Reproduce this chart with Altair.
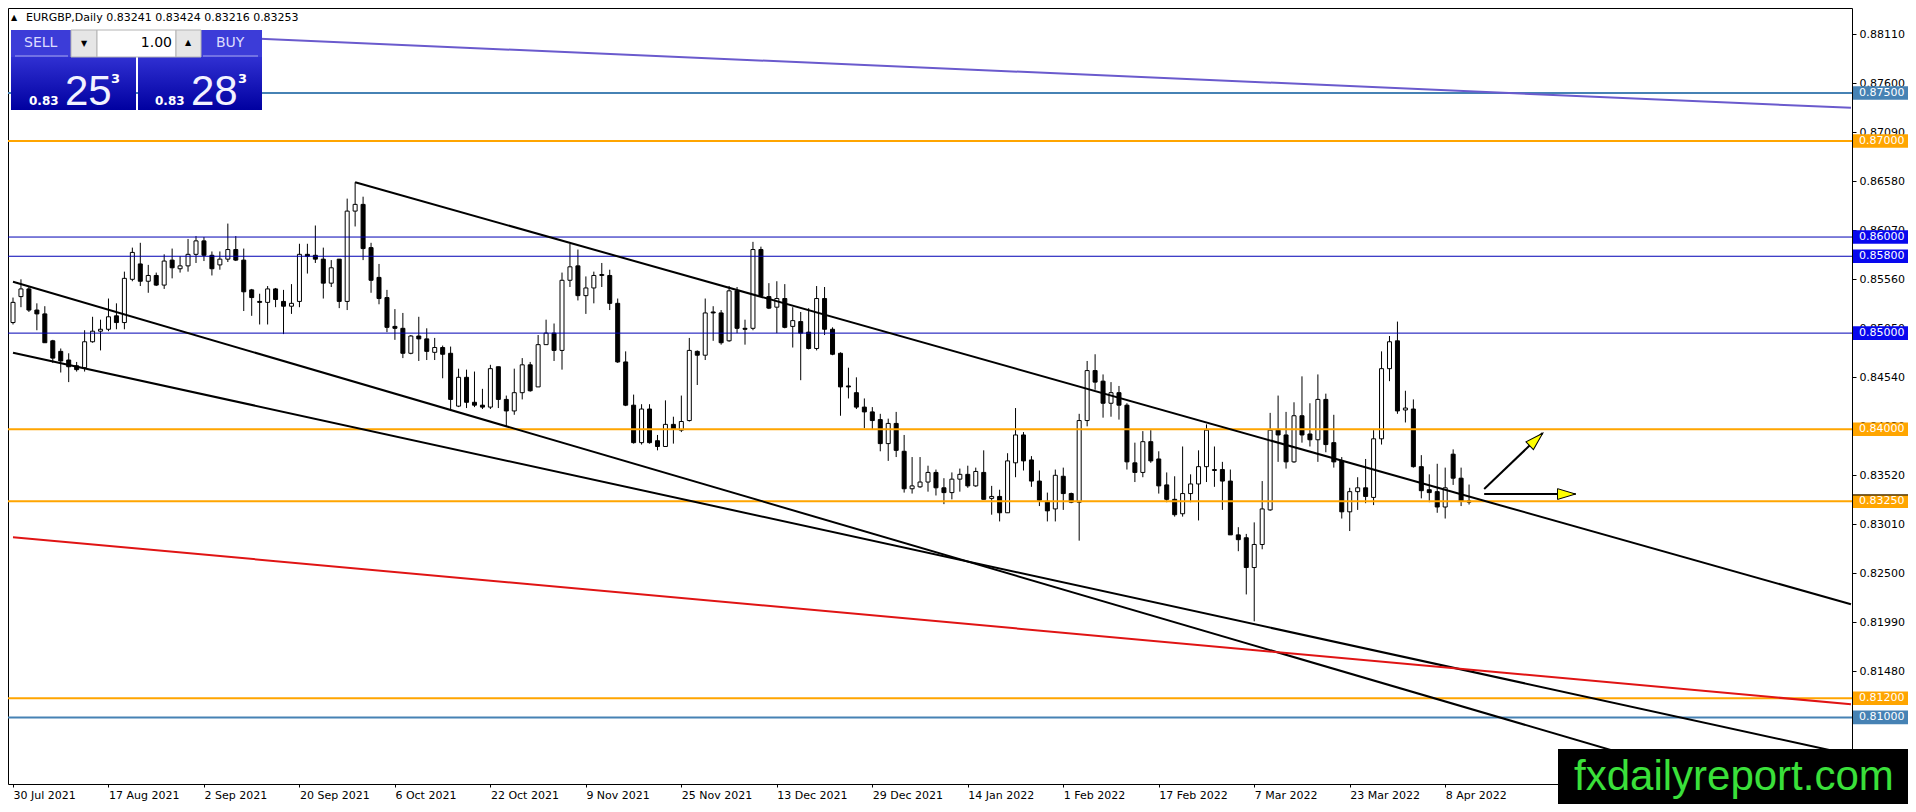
import math
import altair as alt
import pandas as pd

# ---------------- data ----------------
opens = [0.8511, 0.8538, 0.8546, 0.8524, 0.8520, 0.8492, 0.8481, 0.8472, 0.8466, 0.8464,
         0.8491, 0.8502, 0.8504, 0.8518, 0.8511, 0.8556, 0.8572, 0.8554, 0.8560, 0.8550,
         0.8576, 0.8567, 0.8570, 0.8582, 0.8596, 0.8581, 0.8571, 0.8577, 0.8587, 0.8576,
         0.8545, 0.8533, 0.8532, 0.8546, 0.8533, 0.8528, 0.8533, 0.8582, 0.8581, 0.8577,
         0.8552, 0.8577, 0.8533, 0.8627, 0.8634, 0.8589, 0.8558, 0.8537, 0.8507, 0.8505,
         0.8479, 0.8497, 0.8494, 0.8480, 0.8485, 0.8479, 0.8424, 0.8454, 0.8428, 0.8425,
         0.8423, 0.8465, 0.8431, 0.8419, 0.8438, 0.8467, 0.8444, 0.8488, 0.8500, 0.8482,
         0.8555, 0.8570, 0.8539, 0.8547, 0.8560, 0.8560, 0.8531, 0.8470, 0.8425, 0.8386,
         0.8421, 0.8388, 0.8382, 0.8405, 0.8399, 0.8409, 0.8481, 0.8477, 0.8522, 0.8521,
         0.8492, 0.8544, 0.8505, 0.8505, 0.8587, 0.8538, 0.8527, 0.8536, 0.8507, 0.8512,
         0.8501, 0.8484, 0.8536, 0.8504, 0.8479, 0.8445, 0.8438, 0.8423, 0.8418, 0.8410,
         0.8385, 0.8406, 0.8377, 0.8338, 0.8340, 0.8345, 0.8355, 0.8339, 0.8334, 0.8348,
         0.8353, 0.8341, 0.8355, 0.8328, 0.8330, 0.8313, 0.8365, 0.8394, 0.8368, 0.8346,
         0.8325, 0.8317, 0.8351, 0.8333, 0.8324, 0.8409, 0.8461, 0.8450, 0.8427, 0.8438,
         0.8425, 0.8365, 0.8355, 0.8387, 0.8369, 0.8342, 0.8327, 0.8312, 0.8333, 0.8343,
         0.8361, 0.8357, 0.8358, 0.8346, 0.8290, 0.8287, 0.8256, 0.8280, 0.8316, 0.8399,
         0.8394, 0.8366, 0.8414, 0.8395, 0.8389, 0.8431, 0.8386, 0.8367, 0.8314, 0.8335,
         0.8339, 0.8329, 0.8390, 0.8463, 0.8492, 0.8420, 0.8421, 0.8361, 0.8337, 0.8335,
         0.8319, 0.8374, 0.8349, 0.83241]
highs = [0.8537, 0.8556, 0.8548, 0.8531, 0.8528, 0.8493, 0.8484, 0.8479, 0.8470, 0.8503,
         0.8517, 0.8514, 0.8536, 0.8531, 0.8564, 0.8589, 0.8594, 0.8571, 0.8563, 0.8582,
         0.8588, 0.8580, 0.8598, 0.8601, 0.8600, 0.8585, 0.8585, 0.8614, 0.8601, 0.8588,
         0.8546, 0.8541, 0.8549, 0.8547, 0.8545, 0.8551, 0.8593, 0.8593, 0.8612, 0.8589,
         0.8576, 0.8577, 0.8640, 0.8657, 0.8642, 0.8594, 0.8572, 0.8545, 0.8525, 0.8521,
         0.8498, 0.8517, 0.8505, 0.8495, 0.8487, 0.8486, 0.8463, 0.8462, 0.8460, 0.8442,
         0.8467, 0.8465, 0.8435, 0.8463, 0.8474, 0.8470, 0.8498, 0.8514, 0.8510, 0.8563,
         0.8593, 0.8587, 0.8559, 0.8564, 0.8573, 0.8566, 0.8536, 0.8481, 0.8436, 0.8426,
         0.8426, 0.8394, 0.8430, 0.8413, 0.8435, 0.8495, 0.8482, 0.8536, 0.8528, 0.8524,
         0.8549, 0.8548, 0.8514, 0.8595, 0.8590, 0.8552, 0.8554, 0.8551, 0.8527, 0.8522,
         0.8526, 0.8549, 0.8548, 0.8506, 0.8480, 0.8464, 0.8454, 0.8432, 0.8423, 0.8416,
         0.8411, 0.8418, 0.8394, 0.8371, 0.8371, 0.8362, 0.8358, 0.8349, 0.8355, 0.8359,
         0.8362, 0.8360, 0.8378, 0.8341, 0.8337, 0.8375, 0.8422, 0.8397, 0.8372, 0.8357,
         0.8334, 0.8358, 0.8360, 0.8334, 0.8416, 0.8471, 0.8478, 0.8457, 0.8449, 0.8445,
         0.8427, 0.8386, 0.8398, 0.8399, 0.8377, 0.8355, 0.8351, 0.8382, 0.8353, 0.8378,
         0.8405, 0.8382, 0.8366, 0.8358, 0.8298, 0.8291, 0.8303, 0.8346, 0.8417, 0.8435,
         0.8418, 0.8428, 0.8455, 0.8427, 0.8457, 0.8437, 0.8415, 0.8371, 0.8339, 0.8350,
         0.8369, 0.8399, 0.8481, 0.8497, 0.8512, 0.8440, 0.8431, 0.8373, 0.8353, 0.8364,
         0.8360, 0.8379, 0.8360, 0.83424]
lows = [0.8509, 0.8527, 0.8522, 0.8503, 0.8490, 0.8469, 0.8459, 0.8449, 0.8460, 0.8460,
        0.8490, 0.8482, 0.8502, 0.8504, 0.8504, 0.8554, 0.8549, 0.8542, 0.8549, 0.8546,
        0.8557, 0.8563, 0.8564, 0.8573, 0.8575, 0.8560, 0.8566, 0.8574, 0.8575, 0.8523,
        0.8518, 0.8509, 0.8509, 0.8527, 0.8499, 0.8520, 0.8527, 0.8562, 0.8573, 0.8536,
        0.8548, 0.8526, 0.8524, 0.8611, 0.8576, 0.8542, 0.8530, 0.8501, 0.8493, 0.8474,
        0.8478, 0.8471, 0.8472, 0.8472, 0.8453, 0.8421, 0.8423, 0.8422, 0.8423, 0.8421,
        0.8421, 0.8422, 0.8403, 0.8415, 0.8431, 0.8439, 0.8444, 0.8488, 0.8471, 0.8462,
        0.8548, 0.8534, 0.8520, 0.8531, 0.8548, 0.8524, 0.8469, 0.8424, 0.8385, 0.8384,
        0.8385, 0.8378, 0.8382, 0.8385, 0.8397, 0.8408, 0.8446, 0.8472, 0.8492, 0.8488,
        0.8491, 0.8500, 0.8488, 0.8503, 0.8538, 0.8525, 0.8500, 0.8505, 0.8485, 0.8451,
        0.8483, 0.8482, 0.8498, 0.8477, 0.8414, 0.8432, 0.8421, 0.8401, 0.8400, 0.8377,
        0.8367, 0.8371, 0.8334, 0.8333, 0.8339, 0.8335, 0.8331, 0.8322, 0.8327, 0.8335,
        0.8339, 0.8340, 0.8327, 0.8311, 0.8304, 0.8313, 0.8350, 0.8357, 0.8340, 0.8320,
        0.8304, 0.8304, 0.8316, 0.8323, 0.8284, 0.8403, 0.8441, 0.8412, 0.8413, 0.8410,
        0.8358, 0.8345, 0.8350, 0.8365, 0.8333, 0.8324, 0.8309, 0.8309, 0.8324, 0.8305,
        0.8345, 0.8340, 0.8316, 0.8290, 0.8273, 0.8228, 0.8200, 0.8275, 0.8315, 0.8366,
        0.8359, 0.8365, 0.8386, 0.8382, 0.8366, 0.8376, 0.8360, 0.8307, 0.8294, 0.8316,
        0.8323, 0.8321, 0.8384, 0.8450, 0.8416, 0.8407, 0.8360, 0.8328, 0.8324, 0.8313,
        0.8307, 0.8342, 0.8320, 0.83216]
closes = [0.8532, 0.8546, 0.8524, 0.8520, 0.8490, 0.8474, 0.8471, 0.8465, 0.8462, 0.8491,
          0.8502, 0.8504, 0.8517, 0.8511, 0.8557, 0.8584, 0.8554, 0.8560, 0.8550, 0.8575,
          0.8568, 0.8570, 0.8582, 0.8596, 0.8581, 0.8567, 0.8577, 0.8587, 0.8576, 0.8543,
          0.8537, 0.8532, 0.8546, 0.8535, 0.8528, 0.8531, 0.8582, 0.8580, 0.8577, 0.8552,
          0.8568, 0.8533, 0.8627, 0.8634, 0.8588, 0.8555, 0.8536, 0.8506, 0.8505, 0.8479,
          0.8497, 0.8494, 0.8481, 0.8485, 0.8478, 0.8431, 0.8454, 0.8428, 0.8425, 0.8423,
          0.8463, 0.8431, 0.8419, 0.8438, 0.8467, 0.8440, 0.8488, 0.8500, 0.8482, 0.8555,
          0.8569, 0.8539, 0.8547, 0.8560, 0.8561, 0.8531, 0.8470, 0.8425, 0.8386, 0.8421,
          0.8386, 0.8382, 0.8405, 0.8400, 0.8408, 0.8482, 0.8477, 0.8521, 0.8521, 0.8490,
          0.8544, 0.8505, 0.8504, 0.8587, 0.8539, 0.8526, 0.8536, 0.8506, 0.8513, 0.8500,
          0.8484, 0.8536, 0.8504, 0.8478, 0.8444, 0.8444, 0.8423, 0.8418, 0.8409, 0.8385,
          0.8406, 0.8378, 0.8338, 0.8341, 0.8345, 0.8355, 0.8339, 0.8334, 0.8348, 0.8353,
          0.8341, 0.8356, 0.8327, 0.8330, 0.8313, 0.8367, 0.8394, 0.8367, 0.8346, 0.8326,
          0.8315, 0.8352, 0.8333, 0.8324, 0.8409, 0.8461, 0.8449, 0.8427, 0.8438, 0.8425,
          0.8366, 0.8355, 0.8387, 0.8367, 0.8341, 0.8327, 0.8311, 0.8333, 0.8343, 0.8361,
          0.8399, 0.8358, 0.8346, 0.8290, 0.8285, 0.8256, 0.8280, 0.8317, 0.8399, 0.8394,
          0.8366, 0.8414, 0.8394, 0.8389, 0.8431, 0.8384, 0.8366, 0.8314, 0.8335, 0.8339,
          0.8330, 0.8390, 0.8463, 0.8491, 0.8419, 0.8422, 0.8361, 0.8336, 0.8334, 0.8319,
          0.8339, 0.8349, 0.8325, 0.83253]

date_labels = ["30 Jul 2021", "17 Aug 2021", "2 Sep 2021", "20 Sep 2021", "6 Oct 2021",
               "22 Oct 2021", "9 Nov 2021", "25 Nov 2021", "13 Dec 2021", "29 Dec 2021",
               "14 Jan 2022", "1 Feb 2022", "17 Feb 2022", "7 Mar 2022", "23 Mar 2022",
               "8 Apr 2022"]
date_label_bars = [0, 12, 24, 36, 48, 60, 72, 84, 96, 108, 120, 132, 144, 156, 168, 180]

price_ticks = [0.8811, 0.8760, 0.8709, 0.8658, 0.8607, 0.8556, 0.8505, 0.8454, 0.8403,
               0.8352, 0.8301, 0.8250, 0.8199, 0.8148]

level_prices = [0.8750, 0.8700, 0.8600, 0.8580, 0.8500, 0.8400, 0.8325, 0.8120, 0.8100]
level_kinds = ["steel", "orange", "blue", "blue", "blue", "orange", "orange", "orange", "steel"]

trend_names = ["purple", "channel_top", "channel_low", "support", "red"]
trend_i0 = [30, 43, 0, 0, 0]
trend_p0 = [0.88067, 0.8657, 0.85535, 0.84796, 0.82875]
trend_i1 = [231, 231, 231, 231, 231]
trend_p1 = [0.87345, 0.82178, 0.79928, 0.80612, 0.81137]

arrow_names = ["up", "flat"]
arrow_i0 = [184.9, 184.9]
arrow_p0 = [0.83377, 0.83325]
arrow_i1 = [192.25, 196.4]
arrow_p1 = [0.8396, 0.83325]
head_i = [191.44, 195.25]
head_p = [0.83893, 0.83325]

bid_price = 0.83253
symbol_header = "EURGBP,Daily  0.83241 0.83424 0.83216 0.83253"

# ---------------- layout ----------------
W, H = 1844, 776
X_DOM = [0, 230.5]
Y_DOM = [0.80307, 0.88384]
PX_PER_BAR = W / (X_DOM[1] - X_DOM[0])
PX_PER_PRICE = H / (Y_DOM[1] - Y_DOM[0])
FONT = "DejaVu Sans"

XS = alt.Scale(domain=X_DOM, nice=False, zero=False)
YS = alt.Scale(domain=Y_DOM, nice=False, zero=False)

df = pd.DataFrame({"i": list(range(len(opens))), "o": opens, "h": highs, "l": lows, "c": closes})

label_expr = "[" + ",".join("'%s'" % d for d in date_labels) + "][round(datum.value / 12)]"

X_AXIS = alt.Axis(values=date_label_bars, labelExpr=label_expr, labelAlign="left",
                  labelBaseline="top", labelFont=FONT, labelFontSize=11, labelColor="black",
                  tickColor="black", tickSize=3, labelPadding=2, domain=False, grid=False,
                  title=None, labelOverlap=False, labelFlush=False, zindex=0)
Y_AXIS = alt.Axis(orient="right", values=price_ticks, format=".5f", labelFont=FONT,
                  labelFontSize=11, labelColor="black", tickColor="black", tickSize=4,
                  labelPadding=3, domain=False, grid=False, title=None, labelOverlap=False,
                  labelFlush=False, zindex=0)


def X(field):
    return alt.X(field, scale=XS, axis=X_AXIS)


def Y(field):
    return alt.Y(field, scale=YS, axis=Y_AXIS)


base = alt.Chart(df)
wicks = base.mark_rule(color="black", strokeWidth=1).encode(
    x=X("i:Q"), y=Y("l:Q"), y2="h:Q",
)
bodies = base.mark_bar(size=4, stroke="black", strokeWidth=1).encode(
    x=X("i:Q"), y=Y("o:Q"), y2="c:Q",
    fill=alt.condition("datum.c > datum.o", alt.value("white"), alt.value("black")),
)

levels = pd.DataFrame({"p": level_prices, "kind": level_kinds})
LINE_STYLE = {"steel": ("#4682b4", 2), "orange": ("#ffa500", 2), "blue": ("#0000b4", 1)}
BOX_COLOR = {"steel": "#4682b4", "orange": "#ffa500", "blue": "#0808ee"}

level_layers = []
box_layers = []
for kind, (col, sw) in LINE_STYLE.items():
    level_layers.append(
        alt.Chart(levels).transform_filter(alt.datum.kind == kind)
        .mark_rule(color=col, strokeWidth=sw)
        .encode(y=Y("p:Q"))
    )
half_box = 6.8 / PX_PER_PRICE
for kind, col in BOX_COLOR.items():
    box_layers.append(
        alt.Chart(levels).transform_filter(alt.datum.kind == kind)
        .transform_calculate(lo="datum.p - %f" % half_box, hi="datum.p + %f" % half_box)
        .mark_rect(color=col)
        .encode(x=alt.value(W + 1), x2=alt.value(W + 56), y=Y("lo:Q"), y2="hi:Q")
    )
box_text = alt.Chart(levels).mark_text(align="left", baseline="middle", font=FONT,
                                        fontSize=11, color="white").encode(
    x=alt.value(W + 7), y=Y("p:Q"), text=alt.Text("p:Q", format=".5f"))

bid_df = pd.DataFrame({"p": [bid_price]})
bid_rule = alt.Chart(bid_df).mark_rule(color="black", strokeWidth=1, yOffset=-6).encode(
    x=alt.value(W + 1), x2=alt.value(W + 56), y=Y("p:Q"))

trend_rows = []
for n, a, b, c, d in zip(trend_names, trend_i0, trend_p0, trend_i1, trend_p1):
    trend_rows.append({"name": n, "i": a, "p": b})
    trend_rows.append({"name": n, "i": c, "p": d})
trend_df = pd.DataFrame(trend_rows)
trends = alt.Chart(trend_df).mark_line(clip=True, strokeWidth=2).encode(
    x=X("i:Q"), y=Y("p:Q"),
    color=alt.Color("name:N", legend=None,
                    scale=alt.Scale(domain=trend_names,
                                    range=["#6a5acd", "black", "black", "black", "#e01414"])),
    detail="name:N",
)

arrow_rows = []
for n, a, b, c, d in zip(arrow_names, arrow_i0, arrow_p0, arrow_i1, arrow_p1):
    arrow_rows.append({"name": n, "i": a, "p": b})
    arrow_rows.append({"name": n, "i": c, "p": d})
arrow_df = pd.DataFrame(arrow_rows)
shafts = alt.Chart(arrow_df).mark_line(color="black", strokeWidth=2).encode(
    x=X("i:Q"), y=Y("p:Q"), detail="name:N")

angles = []
for a, b, c, d in zip(arrow_i0, arrow_p0, arrow_i1, arrow_p1):
    ang = -math.degrees(math.atan2((d - b) * PX_PER_PRICE, (c - a) * PX_PER_BAR))
    angles.append(ang % 360)
head_df = pd.DataFrame({"i": head_i, "p": head_p, "ang": angles})
heads = alt.Chart(head_df).mark_point(shape="M1,0L-1,-0.6L-1,0.6Z", size=324, filled=True,
                                      fill="#ffff00", stroke="black", strokeWidth=1,
                                      opacity=1).encode(
    x=X("i:Q"), y=Y("p:Q"), angle=alt.Angle("ang:Q", scale=None))

# ---------------- overlay widgets ----------------
ONE = alt.Data(values=[{}])


def px_rect(x, x2, y, y2, **kw):
    return alt.Chart(ONE).mark_rect(**kw).encode(
        x=alt.value(x), x2=alt.value(x2), y=alt.value(y), y2=alt.value(y2))


def px_text(x, y, text, **kw):
    kw.setdefault("font", FONT)
    return alt.Chart(ONE).mark_text(text=text, **kw).encode(x=alt.value(x), y=alt.value(y))


def px_rule(x, x2, y, **kw):
    return alt.Chart(ONE).mark_rule(**kw).encode(x=alt.value(x), x2=alt.value(x2), y=alt.value(y))


grad = alt.Gradient(gradient="linear",
                    stops=[alt.GradientStop(color="#3030d2", offset=0),
                           alt.GradientStop(color="#0000a0", offset=1)],
                    x1=0, x2=0, y1=0, y2=1)

widget = [
    px_rect(3, 128, 22, 49, fill="#3c3cd8"),
    px_rect(130, 254, 22, 49, fill="#3c3cd8"),
    px_rect(3, 128, 49, 102, fill=grad),
    px_rect(130, 254, 49, 102, fill=grad),
    px_rule(7, 60, 48, color="#a8a8f0", strokeWidth=1),
    px_rule(195, 250, 48, color="#a8a8f0", strokeWidth=1),
    px_rect(63, 89, 22, 49, fill="#e6e6e6", stroke="#b4b4b4", strokeWidth=1),
    px_rect(89, 168, 22, 49, fill="white", stroke="#b4b4b4", strokeWidth=1),
    px_rect(168, 193, 22, 49, fill="#e6e6e6", stroke="#b4b4b4", strokeWidth=1),
    px_text(76, 36, "▼", fontSize=8, color="black", align="center", baseline="middle"),
    px_text(180, 35, "▲", fontSize=8, color="black", align="center", baseline="middle"),
    px_text(164, 35, "1.00", fontSize=14, color="black", align="right", baseline="middle"),
    px_text(16, 35, "SELL", fontSize=14, color="#dcdcff", align="left", baseline="middle"),
    px_text(208, 35, "BUY", fontSize=14, color="#dcdcff", align="left", baseline="middle"),
    px_text(21, 97, "0.83", fontSize=12, fontWeight="bold", color="white", align="left",
            baseline="alphabetic"),
    px_text(57, 97, "25", font="Liberation Sans", fontSize=42, color="#f2f2ff", align="left",
            baseline="alphabetic"),
    px_text(103, 75, "3", fontSize=13, fontWeight="bold", color="white", align="left",
            baseline="alphabetic"),
    px_text(147, 97, "0.83", fontSize=12, fontWeight="bold", color="white", align="left",
            baseline="alphabetic"),
    px_text(183, 97, "28", font="Liberation Sans", fontSize=42, color="#f2f2ff", align="left",
            baseline="alphabetic"),
    px_text(230, 75, "3", fontSize=13, fontWeight="bold", color="white", align="left",
            baseline="alphabetic"),
    px_text(3, 10, "▲", fontSize=8, color="black", align="left", baseline="middle"),
    px_text(18, 10, symbol_header, fontSize=11, color="black", align="left", baseline="middle"),
]

watermark = [
    px_rect(1550, 1900, 741, 796, fill="black"),
    px_text(1566, 782, "fxdailyreport.com", font="Liberation Sans", fontSize=42,
            color="#3ae03a", align="left", baseline="alphabetic"),
]

chart = alt.layer(
    wicks, bodies, *level_layers, trends, shafts, heads, *box_layers, bid_rule, box_text,
    *widget, *watermark
).properties(
    width=W, height=H,
    padding={"left": 0, "top": 0, "right": 56, "bottom": 20},
    autosize=alt.AutoSizeParams(type="none"),
    background="white",
).configure_view(stroke="black", strokeWidth=1)

chart.save("out.html", embed_options={"renderer": "svg", "actions": False})
